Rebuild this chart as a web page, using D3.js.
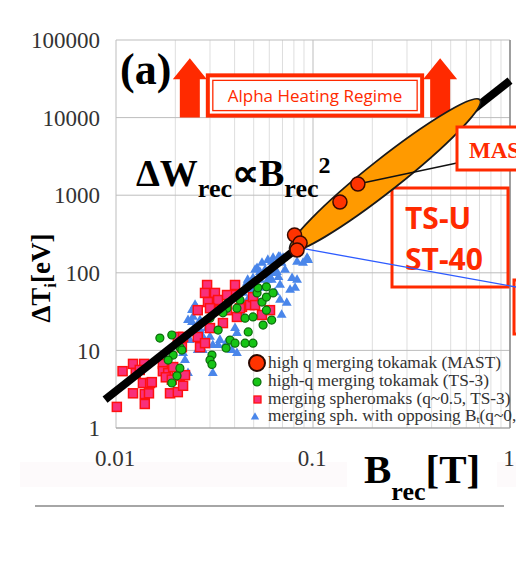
<!DOCTYPE html>
<html>
<head>
<meta charset="utf-8">
<script src="https://cdn.jsdelivr.net/npm/d3@7"></script>
<style>
  body { margin: 0; background: #fff; }
  svg { display: block; }
</style>
</head>
<body>
<div id="chart"></div>
<script>
const W = 516, H = 573;

// axis ticks
const xTicks = [0.01, 0.1, 1];
const yTicks = [1, 10, 100, 1000, 10000, 100000];

// [B_rec (T), delta T_i (eV)]
const mastPts = [[0.0806, 307], [0.086, 242], [0.083, 197], [0.137, 817], [0.169, 1394]];

const ts3TokPts = [
  [0.0167, 14.4], [0.0192, 15.8], [0.0211, 11.0], [0.0195, 8.7], [0.0184, 7.5], [0.0211, 5.9],
  [0.0204, 4.7], [0.0192, 3.8], [0.0216, 10.1], [0.0307, 8.7], [0.0300, 7.5], [0.0307, 6.6],
  [0.0379, 13.6], [0.0402, 12.4], [0.0362, 10.7], [0.0496, 12.4], [0.0469, 17.3], [0.0366, 35],
  [0.0411, 35], [0.0452, 26], [0.0496, 27], [0.0551, 42], [0.0580, 48.6], [0.0520, 55],
  [0.0580, 66], [0.0627, 55], [0.0558, 21.2], [0.0617, 24.6], [0.0330, 18.3], [0.0300, 26],
  [0.0452, 12.4], [0.0525, 64], [0.0580, 33], [0.0426, 44.6], [0.0349, 30.5], [0.0370, 40.8]
];

const spheromakPts = [
  [0.0101, 1.87], [0.0108, 5.4], [0.0122, 6.7], [0.0139, 6.7], [0.0126, 5.1], [0.0137, 3.8],
  [0.0149, 3.8], [0.0122, 2.8], [0.0140, 2.74], [0.0147, 2.8], [0.0140, 2.04], [0.0132, 5.6],
  [0.0173, 6.7], [0.0173, 5.4], [0.0184, 5.1], [0.0179, 4.5], [0.0192, 4.2], [0.0188, 2.8],
  [0.0206, 2.9], [0.0211, 4.7], [0.0219, 3.5], [0.0224, 4.8], [0.0216, 11.0], [0.0206, 14.9],
  [0.0219, 14.9], [0.0260, 14.9], [0.0267, 11.0], [0.0283, 12.4], [0.0300, 19.4], [0.0290, 69.6],
  [0.0283, 55], [0.0318, 55], [0.0330, 44.6], [0.0293, 42], [0.0337, 33], [0.0300, 35],
  [0.0349, 22.5], [0.0402, 69.6], [0.0402, 51.7], [0.0366, 51.7], [0.0436, 36.4], [0.0479, 38.4],
  [0.0411, 27], [0.0551, 28.6], [0.0605, 33], [0.0496, 48.6], [0.0508, 38.4], [0.0426, 35],
  [0.0366, 33], [0.0260, 33], [0.0152, 3.9], [0.0195, 6.1]
];

const opposingPts = [
  [0.0243, 33], [0.0257, 35], [0.0243, 23.2], [0.0267, 24.6], [0.0246, 18.3], [0.0267, 18.3],
  [0.0276, 14.9], [0.0260, 10.1], [0.0276, 10.1], [0.0219, 9.2], [0.0224, 7.5], [0.0232, 5.1],
  [0.0290, 19.4], [0.0300, 14.9], [0.0310, 11.7], [0.0330, 11.7], [0.0337, 13.6], [0.0310, 5.1],
  [0.0402, 19.4], [0.0411, 16.7], [0.0387, 10.1], [0.0426, 31.3], [0.0452, 38.4], [0.0466, 44.6],
  [0.0520, 44.6], [0.0538, 80.7], [0.0520, 115], [0.0551, 134], [0.0590, 146], [0.0627, 155],
  [0.0680, 160], [0.0693, 134], [0.0721, 109], [0.0627, 99], [0.0590, 80.7], [0.0571, 109],
  [0.0693, 28.6], [0.0933, 155], [0.0890, 134], [0.0571, 64], [0.0490, 60], [0.0246, 27],
  [0.0232, 24.6], [0.0237, 16.7], [0.0362, 12.4], [0.0411, 9.2], [0.0441, 55], [0.0466, 80.7],
  [0.0617, 138], [0.0668, 160], [0.0705, 155], [0.0830, 138], [0.0945, 146], [0.0508, 109],
  [0.0538, 102], [0.0496, 85], [0.0584, 99], [0.0617, 80.7], [0.0462, 74], [0.0668, 88],
  [0.0680, 69.6], [0.0765, 60], [0.0642, 56], [0.0736, 40.8], [0.0830, 80.7], [0.0783, 85],
  [0.0680, 44.6], [0.0811, 64], [0.0656, 102], [0.0605, 88], [0.0830, 228], [0.091, 240],
  [0.0252, 38.4], [0.0237, 13.6]
];

// scaling law  dT = k * B^2
const fitK = 3e4;
const fitRange = [0.0088, 1.0];

// annotations (data space)
const ellipseEnds = [[0.0765, 197], [0.704, 16860]];
const blueLine = [[0.0912, 203], [1.073, 65.6]];
const mastLink = [[0.169, 1394], [0.538, 2600]];
const arrowB = [0.0237, 0.442];
const arrowT = [1e4, 5.8e4];

const legendLabels = [
  "high q merging tokamak (MAST)",
  "high-q merging tokamak (TS-3)",
  "merging spheromaks (q~0.5, TS-3)",
  "merging sph. with opposing B"
];

const red = "#ff2a00";
const serif = "'Liberation Serif', 'Times New Roman', serif";
const sans = "'Open Sans', 'Noto Sans', sans-serif";

const svg = d3.select("#chart").append("svg")
  .attr("width", W)
  .attr("height", H);

const x = d3.scaleLog().domain([0.01, 1]).range([116, 510]);
const y = d3.scaleLog().domain([1, 1e5]).range([428, 40]);

// faint band behind the tick labels
svg.append("rect").attr("x", 20).attr("y", 462).attr("width", 327).attr("height", 25)
  .attr("fill", "#fdfafb");
svg.append("rect").attr("x", 497).attr("y", 462).attr("width", 19).attr("height", 25)
  .attr("fill", "#fdfafb");

// grid
const grid = svg.append("g");
grid.selectAll("line.vx").data(x.ticks())
  .enter().append("line")
  .attr("x1", d => x(d)).attr("x2", d => x(d))
  .attr("y1", y(1e5)).attr("y2", y(1))
  .attr("stroke", d => xTicks.includes(d) ? "#bdbdbd" : "#dedede")
  .attr("stroke-width", 1);
grid.selectAll("line.hy").data(yTicks)
  .enter().append("line")
  .attr("x1", x(0.01)).attr("x2", x(1))
  .attr("y1", d => y(d)).attr("y2", d => y(d))
  .attr("stroke", "#bdbdbd")
  .attr("stroke-width", 1);
// right frame
svg.append("line").attr("x1", x(1)).attr("x2", x(1)).attr("y1", y(1e5)).attr("y2", y(1))
  .attr("stroke", "#8a8a8a").attr("stroke-width", 1.5);
svg.append("line").attr("x1", x(0.01)).attr("x2", x(1)).attr("y1", y(1)).attr("y2", y(1))
  .attr("stroke", "#a0a0a0").attr("stroke-width", 1.2);

// tick labels
svg.append("g").selectAll("text").data(yTicks)
  .enter().append("text")
  .attr("x", 100).attr("y", d => y(d)).attr("dy", "0.36em")
  .attr("text-anchor", "end")
  .attr("font-family", serif).attr("font-size", 23).attr("fill", "#333")
  .text(d => d);
svg.append("g").selectAll("text").data(xTicks)
  .enter().append("text")
  .attr("x", d => x(d) - 1).attr("y", 466)
  .attr("text-anchor", "middle")
  .attr("font-family", serif).attr("font-size", 23).attr("fill", "#333")
  .text(d => d);

// axis titles
const yt = svg.append("text")
  .attr("transform", "translate(50,278) rotate(-90)")
  .attr("text-anchor", "middle")
  .attr("font-family", serif).attr("font-weight", "bold").attr("font-size", 27);
yt.append("tspan").text("ΔT");
yt.append("tspan").attr("font-size", 17).attr("dy", 6).text("i");
yt.append("tspan").attr("dy", -6).text("[eV]");

const xt = svg.append("text")
  .attr("x", 364).attr("y", 483)
  .attr("font-family", serif).attr("font-weight", "bold").attr("font-size", 41);
xt.append("tspan").text("B");
xt.append("tspan").attr("font-size", 26).attr("dy", 17).text("rec");
xt.append("tspan").attr("dy", -17).text("[T]");

// bottom rule
svg.append("line").attr("x1", 35).attr("x2", 504).attr("y1", 506).attr("y2", 506)
  .attr("stroke", "#888").attr("stroke-width", 1.5);

// (a)
svg.append("text").attr("x", 120).attr("y", 84)
  .attr("font-family", serif).attr("font-weight", "bold").attr("font-size", 44)
  .text("(a)");

// alpha heating arrows
function arrowPath(b) {
  const cx = x(b), y0 = y(arrowT[0]), y1 = y(arrowT[1]);
  const hw = 17, sw = 10, hh = 21;
  return `M${cx - sw},${y0}L${cx - sw},${y1 + hh}L${cx - hw},${y1 + hh}L${cx},${y1}` +
    `L${cx + hw},${y1 + hh}L${cx + sw},${y1 + hh}L${cx + sw},${y0}Z`;
}
svg.append("g").selectAll("path").data(arrowB)
  .enter().append("path")
  .attr("d", arrowPath)
  .attr("fill", red);

// alpha heating box
const bx0 = x(arrowB[0]) + 17, bx1 = x(arrowB[1]) - 17;
const by0 = y(arrowT[1]) + 17, by1 = y(arrowT[0]);
svg.append("rect").attr("x", bx0 + 1).attr("y", by0).attr("width", bx1 - bx0 - 2).attr("height", by1 - by0 - 2)
  .attr("fill", "#fff").attr("stroke", red).attr("stroke-width", 4);
svg.append("rect").attr("x", bx0 + 6).attr("y", by0 + 5).attr("width", bx1 - bx0 - 12).attr("height", by1 - by0 - 12)
  .attr("fill", "none").attr("stroke", red).attr("stroke-width", 1.3);
svg.append("text").attr("x", (bx0 + bx1) / 2).attr("y", by0 + 27)
  .attr("text-anchor", "middle")
  .attr("font-family", sans).attr("font-size", 17).attr("fill", red)
  .text("Alpha Heating Regime");

// scaling law text
const law = svg.append("text").attr("x", 136).attr("y", 186)
  .attr("font-family", serif).attr("font-weight", "bold").attr("font-size", 38);
law.append("tspan").text("ΔW");
law.append("tspan").attr("font-size", 26).attr("dy", 11).text("rec");
law.append("tspan").attr("dy", -11).text("∝B");
law.append("tspan").attr("font-size", 26).attr("dy", 11).text("rec");
law.append("tspan").attr("font-size", 24).attr("dy", -24).text("2");

// TS-U / ST-40 box
svg.append("rect").attr("x", 392).attr("y", 188).attr("width", 116).attr("height", 99)
  .attr("fill", "none").attr("stroke", red).attr("stroke-width", 3);
svg.append("text").attr("x", 405).attr("y", 229)
  .attr("font-family", sans).attr("font-weight", "bold").attr("font-size", 30).attr("fill", red)
  .text("TS-U");
svg.append("text").attr("x", 405).attr("y", 270)
  .attr("font-family", sans).attr("font-weight", "bold").attr("font-size", 30).attr("fill", red)
  .text("ST-40");
svg.append("rect").attr("x", 514).attr("y", 280).attr("width", 20).attr("height", 54)
  .attr("fill", "#fff").attr("stroke", red).attr("stroke-width", 3);

// scatter
svg.append("g").selectAll("path").data(opposingPts)
  .enter().append("path")
  .attr("transform", d => `translate(${x(d[0])},${y(d[1])})`)
  .attr("d", d3.symbol(d3.symbolTriangle, 42))
  .attr("fill", "#4a86ea");
svg.append("g").selectAll("rect").data(spheromakPts)
  .enter().append("rect")
  .attr("x", d => x(d[0]) - 4.5).attr("y", d => y(d[1]) - 4.5)
  .attr("width", 9).attr("height", 9)
  .attr("fill", "#f8307a").attr("stroke", "#ff1010").attr("stroke-width", 1.5);
svg.append("g").selectAll("circle").data(ts3TokPts)
  .enter().append("circle")
  .attr("cx", d => x(d[0])).attr("cy", d => y(d[1])).attr("r", 4)
  .attr("fill", "#16c416").attr("stroke", "#0a6a0a").attr("stroke-width", 1.2);

// B^2 line
const fitPts = fitRange.map(b => [b, fitK * b * b]);
const line = d3.line().x(d => x(d[0])).y(d => y(d[1]));
svg.append("path").attr("d", line(fitPts))
  .attr("stroke", "#000").attr("stroke-width", 8).attr("fill", "none");

// blue guide line
svg.append("path").attr("d", line(blueLine))
  .attr("stroke", "#2d5bff").attr("stroke-width", 1.3).attr("fill", "none");

// orange ellipse along the line
const e0 = [x(ellipseEnds[0][0]), y(ellipseEnds[0][1])];
const e1 = [x(ellipseEnds[1][0]), y(ellipseEnds[1][1])];
const ecx = (e0[0] + e1[0]) / 2, ecy = (e0[1] + e1[1]) / 2;
const erx = Math.hypot(e1[0] - e0[0], e1[1] - e0[1]) / 2;
const eang = Math.atan2(e1[1] - e0[1], e1[0] - e0[0]) * 180 / Math.PI;
svg.append("ellipse")
  .attr("transform", `translate(${ecx},${ecy}) rotate(${eang})`)
  .attr("rx", erx).attr("ry", 16)
  .attr("fill", "#ff9a00").attr("stroke", "#1a1a1a").attr("stroke-width", 1.8);

// MAST connector + box
svg.append("path").attr("d", line(mastLink))
  .attr("stroke", "#111").attr("stroke-width", 1.3).attr("fill", "none");
svg.append("rect").attr("x", 457).attr("y", 127).attr("width", 80).attr("height", 43)
  .attr("fill", "#fff").attr("stroke", red).attr("stroke-width", 3);
svg.append("text").attr("x", 469).attr("y", 158)
  .attr("font-family", serif).attr("font-weight", "bold").attr("font-size", 23).attr("fill", red)
  .text("MAST");

// MAST points
svg.append("g").selectAll("circle").data(mastPts)
  .enter().append("circle")
  .attr("cx", d => x(d[0])).attr("cy", d => y(d[1])).attr("r", 7)
  .attr("fill", "#ff3300").attr("stroke", "#3a0a00").attr("stroke-width", 1.5);

// legend
const lg = svg.append("g");
const rowY = [363, 381, 399, 416];
lg.append("circle").attr("cx", 257).attr("cy", rowY[0]).attr("r", 8)
  .attr("fill", "#ff3300").attr("stroke", "#2a0800").attr("stroke-width", 2);
lg.append("circle").attr("cx", 257).attr("cy", rowY[1] + 1).attr("r", 4)
  .attr("fill", "#16c416").attr("stroke", "#0a6a0a").attr("stroke-width", 1.2);
lg.append("rect").attr("x", 254).attr("y", rowY[2] - 3).attr("width", 7).attr("height", 7)
  .attr("fill", "#f8307a").attr("stroke", "#ff1010").attr("stroke-width", 1.3);
lg.append("path").attr("transform", `translate(255,${rowY[3] + 1})`)
  .attr("d", d3.symbol(d3.symbolTriangle, 30)).attr("fill", "#4a86ea");
lg.selectAll("text").data(legendLabels)
  .enter().append("text")
  .attr("x", 268).attr("y", (d, i) => rowY[i] + 5)
  .attr("font-family", serif).attr("font-size", 17.3).attr("fill", "#333")
  .each(function (d, i) {
    const t = d3.select(this);
    t.append("tspan").text(d);
    if (i === 3) {
      t.append("tspan").attr("font-size", 11).attr("dy", 2).text("t");
      t.append("tspan").attr("dy", -2).text("(q~0, TS-3)");
    }
  });
</script>
</body>
</html>
